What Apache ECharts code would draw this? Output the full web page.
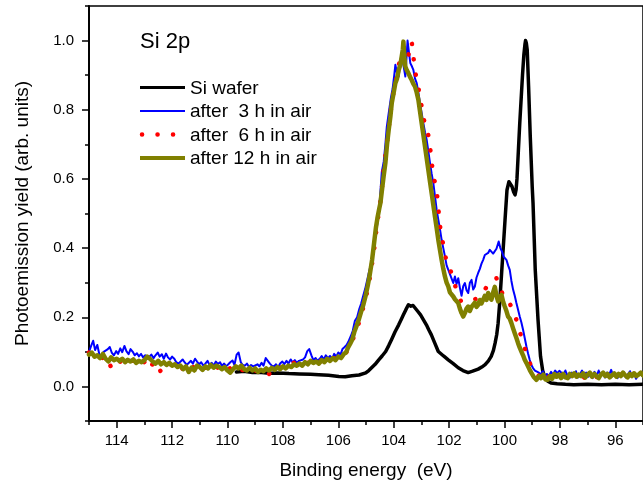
<!DOCTYPE html>
<html>
<head>
<meta charset="utf-8">
<script src="https://cdn.jsdelivr.net/npm/echarts@6/dist/echarts.min.js"></script>
<style>
  html, body { margin: 0; padding: 0; background: #fff; }
  #chart { width: 643px; height: 485px; }
</style>
</head>
<body>
<div id="chart"></div>
<script>
// Si 2p spectra, binding energy (eV) vs yield
var seriesNames = ['Si wafer', 'after  3 h in air', 'after  6 h in air', 'after 12 h in air'];
var xMajorTicks = [96, 98, 100, 102, 104, 106, 108, 110, 112, 114];
var xMinorTicks = [95, 97, 99, 101, 103, 105, 107, 109, 111, 113, 115];
var yMajorTicks = [0, 0.2, 0.4, 0.6, 0.8, 1.0];
var yMinorTicks = [-0.1, 0.1, 0.3, 0.5, 0.7, 0.9, 1.1];

var siWafer = [
  [109.68, 0.042], [109.40, 0.044], [109.10, 0.040], [108.86, 0.041], [108.50, 0.038], [108.20, 0.039],
  [107.78, 0.037], [107.40, 0.036], [107.00, 0.035], [106.70, 0.034], [106.35, 0.032], [105.98, 0.029],
  [105.75, 0.028], [105.51, 0.031], [105.25, 0.033], [105.01, 0.039], [104.90, 0.046], [104.80, 0.054],
  [104.67, 0.064], [104.54, 0.077], [104.42, 0.088], [104.29, 0.101], [104.18, 0.118], [104.08, 0.135],
  [103.95, 0.158], [103.82, 0.178], [103.72, 0.195], [103.65, 0.207], [103.56, 0.222], [103.47, 0.236],
  [103.38, 0.232], [103.30, 0.234], [103.25, 0.229], [103.14, 0.218], [103.03, 0.207], [102.92, 0.192],
  [102.82, 0.178], [102.73, 0.163], [102.64, 0.149], [102.52, 0.126], [102.39, 0.101], [102.20, 0.088],
  [102.03, 0.077], [101.85, 0.066], [101.67, 0.054], [101.50, 0.046], [101.31, 0.040], [101.15, 0.044],
  [100.95, 0.050], [100.82, 0.056], [100.70, 0.063], [100.58, 0.074], [100.48, 0.087], [100.40, 0.104],
  [100.34, 0.125], [100.28, 0.150], [100.23, 0.183], [100.17, 0.245], [100.12, 0.308], [100.05, 0.395],
  [99.98, 0.482], [99.91, 0.568], [99.84, 0.592], [99.78, 0.588], [99.73, 0.578], [99.67, 0.562],
  [99.62, 0.554], [99.58, 0.570], [99.55, 0.600], [99.50, 0.680], [99.45, 0.760], [99.40, 0.830],
  [99.35, 0.900], [99.30, 0.960], [99.26, 0.990], [99.24, 1.000], [99.21, 0.992], [99.18, 0.973],
  [99.13, 0.867], [99.07, 0.723], [99.00, 0.578], [98.97, 0.530], [98.89, 0.337], [98.79, 0.193],
  [98.70, 0.087], [98.62, 0.045], [98.55, 0.028], [98.45, 0.016], [98.32, 0.010], [98.10, 0.008],
  [97.80, 0.006], [97.50, 0.005], [97.00, 0.006], [96.50, 0.005], [96.00, 0.006], [95.50, 0.005],
  [95.00, 0.006]
];

var air3h = [
  [115.00, 0.100], [114.92, 0.118], [114.85, 0.132], [114.78, 0.105], [114.70, 0.120], [114.62, 0.090],
  [114.55, 0.083], [114.47, 0.100], [114.40, 0.095], [114.32, 0.108], [114.25, 0.114], [114.18, 0.098],
  [114.10, 0.090], [114.02, 0.102], [113.95, 0.094], [113.87, 0.110], [113.80, 0.099], [113.72, 0.117],
  [113.65, 0.102], [113.57, 0.093], [113.50, 0.108], [113.42, 0.100], [113.35, 0.090], [113.27, 0.096],
  [113.20, 0.087], [113.12, 0.094], [113.05, 0.084], [112.97, 0.090], [112.90, 0.080], [112.82, 0.086],
  [112.75, 0.092], [112.67, 0.082], [112.60, 0.090], [112.52, 0.098], [112.45, 0.086], [112.37, 0.093],
  [112.30, 0.080], [112.22, 0.095], [112.15, 0.084], [112.07, 0.078], [112.00, 0.086], [111.92, 0.080],
  [111.85, 0.070], [111.77, 0.066], [111.70, 0.064], [111.62, 0.078], [111.55, 0.070], [111.47, 0.062],
  [111.40, 0.068], [111.32, 0.074], [111.25, 0.066], [111.17, 0.080], [111.10, 0.072], [111.02, 0.064],
  [110.95, 0.070], [110.87, 0.060], [110.80, 0.066], [110.72, 0.074], [110.65, 0.062], [110.57, 0.068],
  [110.50, 0.060], [110.42, 0.072], [110.35, 0.065], [110.27, 0.070], [110.20, 0.060], [110.12, 0.066],
  [110.05, 0.058], [109.97, 0.064], [109.90, 0.070], [109.82, 0.075], [109.75, 0.062], [109.67, 0.092],
  [109.60, 0.098], [109.52, 0.070], [109.45, 0.062], [109.37, 0.060], [109.30, 0.066], [109.22, 0.056],
  [109.15, 0.062], [109.07, 0.058], [109.00, 0.055], [108.92, 0.064], [108.85, 0.058], [108.77, 0.068],
  [108.70, 0.060], [108.62, 0.082], [108.55, 0.086], [108.47, 0.066], [108.40, 0.060], [108.32, 0.058],
  [108.25, 0.064], [108.17, 0.056], [108.10, 0.066], [108.02, 0.072], [107.95, 0.064], [107.87, 0.074],
  [107.80, 0.066], [107.72, 0.078], [107.65, 0.070], [107.57, 0.076], [107.50, 0.068], [107.42, 0.074],
  [107.35, 0.070], [107.27, 0.078], [107.20, 0.084], [107.12, 0.102], [107.05, 0.108], [106.97, 0.090],
  [106.90, 0.076], [106.82, 0.082], [106.75, 0.074], [106.67, 0.080], [106.60, 0.088], [106.52, 0.078],
  [106.45, 0.090], [106.37, 0.082], [106.30, 0.088], [106.22, 0.080], [106.15, 0.094], [106.07, 0.086],
  [106.00, 0.098], [105.92, 0.092], [105.85, 0.108], [105.77, 0.114], [105.70, 0.120], [105.62, 0.132],
  [105.55, 0.145], [105.48, 0.160], [105.40, 0.190], [105.32, 0.200], [105.25, 0.222], [105.18, 0.238],
  [105.10, 0.262], [105.03, 0.282], [104.95, 0.310], [104.88, 0.335], [104.80, 0.360], [104.73, 0.400],
  [104.65, 0.440], [104.58, 0.475], [104.50, 0.540], [104.43, 0.620], [104.36, 0.650], [104.30, 0.700],
  [104.25, 0.750], [104.18, 0.790], [104.10, 0.835], [104.04, 0.860], [103.98, 0.900], [103.94, 0.930],
  [103.88, 0.905], [103.82, 0.896], [103.76, 0.940], [103.71, 0.965], [103.65, 0.930], [103.58, 0.896],
  [103.53, 0.960], [103.50, 1.000], [103.44, 0.960], [103.40, 0.935], [103.34, 0.925], [103.29, 0.915],
  [103.23, 0.890], [103.17, 0.877], [103.11, 0.850], [103.05, 0.819], [102.99, 0.790], [102.93, 0.761],
  [102.87, 0.735], [102.81, 0.713], [102.75, 0.680], [102.69, 0.646], [102.63, 0.615], [102.57, 0.588],
  [102.51, 0.550], [102.45, 0.511], [102.39, 0.482], [102.33, 0.455], [102.27, 0.424], [102.21, 0.400],
  [102.15, 0.376], [102.09, 0.350], [102.03, 0.345], [101.97, 0.325], [101.91, 0.330], [101.85, 0.299],
  [101.79, 0.318], [101.73, 0.296], [101.67, 0.313], [101.61, 0.285], [101.55, 0.262], [101.49, 0.290],
  [101.43, 0.299], [101.37, 0.278], [101.31, 0.270], [101.25, 0.300], [101.19, 0.308], [101.13, 0.280],
  [101.07, 0.289], [101.01, 0.315], [100.95, 0.328], [100.89, 0.340], [100.83, 0.355], [100.77, 0.366],
  [100.71, 0.380], [100.65, 0.375], [100.59, 0.386], [100.53, 0.395], [100.47, 0.400], [100.41, 0.384],
  [100.35, 0.386], [100.29, 0.398], [100.21, 0.419], [100.15, 0.400], [100.09, 0.390], [100.03, 0.375],
  [99.97, 0.380], [99.93, 0.366], [99.87, 0.350], [99.81, 0.337], [99.75, 0.305], [99.69, 0.280],
  [99.63, 0.262], [99.57, 0.241], [99.51, 0.222], [99.45, 0.202], [99.39, 0.185], [99.33, 0.164],
  [99.27, 0.140], [99.21, 0.116], [99.15, 0.095], [99.09, 0.077], [99.03, 0.062], [98.97, 0.053],
  [98.90, 0.046], [98.83, 0.050], [98.76, 0.040], [98.70, 0.034], [98.62, 0.044], [98.55, 0.029],
  [98.47, 0.036], [98.40, 0.030], [98.32, 0.042], [98.25, 0.034], [98.17, 0.046], [98.10, 0.038],
  [98.02, 0.045], [97.95, 0.050], [97.87, 0.034], [97.80, 0.046], [97.72, 0.030], [97.65, 0.024],
  [97.57, 0.040], [97.50, 0.030], [97.42, 0.044], [97.35, 0.026], [97.27, 0.036], [97.20, 0.046],
  [97.12, 0.030], [97.05, 0.040], [96.97, 0.028], [96.90, 0.038], [96.82, 0.024], [96.75, 0.042],
  [96.67, 0.032], [96.60, 0.046], [96.52, 0.030], [96.45, 0.038], [96.37, 0.026], [96.30, 0.040],
  [96.22, 0.034], [96.15, 0.048], [96.07, 0.030], [96.00, 0.038], [95.92, 0.024], [95.85, 0.036],
  [95.77, 0.030], [95.70, 0.042], [95.62, 0.026], [95.55, 0.034], [95.47, 0.044], [95.40, 0.028],
  [95.32, 0.036], [95.25, 0.022], [95.17, 0.034], [95.10, 0.040], [95.02, 0.030]
];

var air6h = [
  [115.00, 0.098], [114.85, 0.092], [114.70, 0.086], [114.55, 0.080], [114.40, 0.090], [114.30, 0.072],
  [114.20, 0.055], [114.10, 0.070], [113.95, 0.078], [113.80, 0.066], [113.65, 0.074], [113.50, 0.080],
  [113.35, 0.070], [113.20, 0.062], [113.05, 0.075], [112.90, 0.060], [112.80, 0.048], [112.70, 0.066],
  [112.55, 0.072], [112.40, 0.040], [112.25, 0.062], [112.10, 0.066], [111.95, 0.056], [111.80, 0.060],
  [111.65, 0.050], [111.50, 0.062], [111.35, 0.048], [111.20, 0.058], [111.05, 0.064], [110.90, 0.050],
  [110.75, 0.056], [110.60, 0.046], [110.45, 0.058], [110.30, 0.052], [110.15, 0.060], [110.00, 0.048],
  [109.85, 0.056], [109.70, 0.062], [109.55, 0.050], [109.40, 0.046], [109.25, 0.056], [109.10, 0.050],
  [108.95, 0.044], [108.80, 0.050], [108.65, 0.046], [108.50, 0.036], [108.35, 0.052], [108.20, 0.048],
  [108.05, 0.056], [107.90, 0.050], [107.75, 0.060], [107.60, 0.068], [107.45, 0.062], [107.30, 0.070],
  [107.15, 0.066], [107.00, 0.074], [106.85, 0.068], [106.70, 0.076], [106.55, 0.070], [106.40, 0.080],
  [106.25, 0.076], [106.10, 0.084], [105.95, 0.080], [105.80, 0.092], [105.70, 0.100], [105.60, 0.115],
  [105.50, 0.132], [105.40, 0.150], [105.30, 0.172], [105.20, 0.200], [105.10, 0.228], [105.00, 0.258],
  [104.90, 0.296], [104.80, 0.345], [104.70, 0.400], [104.60, 0.470], [104.52, 0.510], [104.44, 0.560],
  [104.36, 0.630], [104.28, 0.680], [104.20, 0.730], [104.12, 0.790], [104.04, 0.835], [103.96, 0.870],
  [103.88, 0.900], [103.80, 0.935], [103.72, 0.944], [103.64, 0.958], [103.56, 0.955], [103.47, 0.959],
  [103.40, 0.975], [103.35, 0.997], [103.29, 0.955], [103.23, 0.910], [103.17, 0.890], [103.11, 0.867],
  [103.05, 0.829], [102.96, 0.800], [102.87, 0.751], [102.77, 0.737], [102.69, 0.694], [102.63, 0.650],
  [102.57, 0.607], [102.45, 0.573], [102.41, 0.530], [102.37, 0.500], [102.30, 0.443], [102.17, 0.395],
  [102.09, 0.357], [101.97, 0.347], [101.88, 0.308], [101.79, 0.294], [101.70, 0.270], [101.57, 0.246],
  [101.45, 0.248], [101.31, 0.246], [101.15, 0.250], [100.95, 0.255], [100.83, 0.268], [100.71, 0.280],
  [100.59, 0.294], [100.41, 0.299], [100.29, 0.313], [100.21, 0.289], [100.05, 0.265], [99.87, 0.255],
  [99.75, 0.227], [99.57, 0.193], [99.45, 0.159], [99.33, 0.125], [99.21, 0.096], [99.09, 0.068],
  [98.94, 0.043], [98.78, 0.030], [98.61, 0.043], [98.47, 0.026], [98.37, 0.029], [98.20, 0.036],
  [98.05, 0.026], [97.90, 0.034], [97.75, 0.022], [97.60, 0.036], [97.45, 0.030], [97.30, 0.040],
  [97.15, 0.024], [97.00, 0.032], [96.85, 0.038], [96.70, 0.026], [96.55, 0.034], [96.40, 0.040],
  [96.25, 0.028], [96.10, 0.036], [95.95, 0.024], [95.80, 0.034], [95.65, 0.040], [95.50, 0.028],
  [95.35, 0.036], [95.20, 0.042], [95.05, 0.030]
];

var air12h = [
  [115.00, 0.092], [114.90, 0.098], [114.80, 0.086], [114.70, 0.090], [114.60, 0.082], [114.50, 0.094],
  [114.40, 0.080], [114.30, 0.072], [114.20, 0.084], [114.10, 0.076], [114.00, 0.080], [113.90, 0.074],
  [113.80, 0.080], [113.70, 0.070], [113.60, 0.077], [113.50, 0.072], [113.40, 0.078], [113.30, 0.068],
  [113.20, 0.074], [113.10, 0.070], [113.00, 0.076], [112.90, 0.086], [112.80, 0.080], [112.70, 0.072],
  [112.60, 0.066], [112.50, 0.074], [112.40, 0.064], [112.30, 0.070], [112.20, 0.062], [112.10, 0.068],
  [112.00, 0.060], [111.90, 0.064], [111.80, 0.056], [111.70, 0.060], [111.60, 0.050], [111.50, 0.058],
  [111.40, 0.042], [111.30, 0.054], [111.20, 0.046], [111.10, 0.060], [111.00, 0.056], [110.90, 0.048],
  [110.80, 0.058], [110.70, 0.052], [110.60, 0.062], [110.50, 0.054], [110.40, 0.060], [110.30, 0.056],
  [110.20, 0.050], [110.10, 0.056], [110.00, 0.046], [109.90, 0.040], [109.80, 0.050], [109.70, 0.058],
  [109.60, 0.052], [109.50, 0.060], [109.40, 0.050], [109.30, 0.046], [109.20, 0.054], [109.10, 0.046],
  [109.00, 0.052], [108.90, 0.042], [108.80, 0.048], [108.70, 0.044], [108.60, 0.052], [108.50, 0.046],
  [108.40, 0.054], [108.30, 0.048], [108.20, 0.056], [108.10, 0.050], [108.00, 0.058], [107.90, 0.052],
  [107.80, 0.060], [107.70, 0.056], [107.60, 0.064], [107.50, 0.060], [107.40, 0.066], [107.30, 0.060],
  [107.20, 0.070], [107.10, 0.064], [107.00, 0.074], [106.90, 0.068], [106.80, 0.072], [106.70, 0.066],
  [106.60, 0.076], [106.50, 0.070], [106.40, 0.080], [106.30, 0.074], [106.20, 0.082], [106.10, 0.076],
  [106.00, 0.086], [105.90, 0.082], [105.80, 0.094], [105.72, 0.098], [105.65, 0.112], [105.58, 0.122],
  [105.50, 0.135], [105.42, 0.158], [105.34, 0.175], [105.26, 0.193], [105.18, 0.215], [105.10, 0.235],
  [105.02, 0.260], [104.94, 0.290], [104.86, 0.325], [104.78, 0.366], [104.70, 0.420], [104.64, 0.460],
  [104.58, 0.490], [104.52, 0.515], [104.48, 0.530], [104.42, 0.570], [104.36, 0.610], [104.30, 0.646],
  [104.24, 0.700], [104.18, 0.742], [104.12, 0.780], [104.07, 0.819], [104.01, 0.845], [103.94, 0.877],
  [103.88, 0.890], [103.82, 0.915], [103.76, 0.930], [103.71, 0.954], [103.67, 0.975], [103.65, 0.997],
  [103.61, 0.950], [103.58, 0.925], [103.53, 0.915], [103.47, 0.906], [103.41, 0.895], [103.35, 0.886],
  [103.29, 0.875], [103.23, 0.867], [103.17, 0.850], [103.11, 0.829], [103.05, 0.795], [102.99, 0.761],
  [102.93, 0.728], [102.87, 0.694], [102.81, 0.660], [102.75, 0.626], [102.69, 0.592], [102.63, 0.559],
  [102.57, 0.525], [102.51, 0.491], [102.45, 0.458], [102.39, 0.424], [102.33, 0.395], [102.27, 0.366],
  [102.21, 0.340], [102.15, 0.318], [102.09, 0.300], [102.03, 0.289], [101.97, 0.272], [101.91, 0.275],
  [101.85, 0.260], [101.79, 0.252], [101.73, 0.248], [101.67, 0.241], [101.61, 0.225], [101.55, 0.212],
  [101.49, 0.202], [101.43, 0.212], [101.37, 0.225], [101.31, 0.231], [101.25, 0.218], [101.19, 0.230],
  [101.13, 0.227], [101.07, 0.242], [101.01, 0.230], [100.95, 0.236], [100.89, 0.250], [100.83, 0.240],
  [100.77, 0.251], [100.71, 0.262], [100.65, 0.250], [100.59, 0.270], [100.53, 0.258], [100.47, 0.251],
  [100.41, 0.272], [100.35, 0.288], [100.29, 0.262], [100.23, 0.246], [100.17, 0.258], [100.11, 0.265],
  [100.05, 0.245], [99.99, 0.231], [99.93, 0.218], [99.87, 0.202], [99.81, 0.196], [99.75, 0.183],
  [99.69, 0.168], [99.63, 0.154], [99.57, 0.140], [99.51, 0.125], [99.45, 0.112], [99.39, 0.101],
  [99.33, 0.090], [99.27, 0.077], [99.21, 0.068], [99.15, 0.058], [99.09, 0.048], [99.03, 0.039],
  [98.95, 0.028], [98.85, 0.019], [98.75, 0.030], [98.68, 0.024], [98.60, 0.034], [98.52, 0.020],
  [98.44, 0.019], [98.36, 0.030], [98.28, 0.022], [98.20, 0.036], [98.12, 0.028], [98.04, 0.034],
  [97.96, 0.024], [97.88, 0.036], [97.80, 0.026], [97.72, 0.024], [97.64, 0.036], [97.56, 0.030],
  [97.48, 0.038], [97.40, 0.028], [97.32, 0.034], [97.24, 0.030], [97.16, 0.038], [97.08, 0.026],
  [97.00, 0.034], [96.92, 0.040], [96.84, 0.028], [96.76, 0.036], [96.68, 0.030], [96.60, 0.024],
  [96.52, 0.034], [96.44, 0.040], [96.36, 0.030], [96.28, 0.036], [96.20, 0.026], [96.12, 0.032],
  [96.04, 0.038], [95.96, 0.028], [95.88, 0.036], [95.80, 0.030], [95.72, 0.040], [95.64, 0.032],
  [95.56, 0.026], [95.48, 0.036], [95.40, 0.030], [95.32, 0.038], [95.24, 0.030], [95.16, 0.034],
  [95.08, 0.040], [95.00, 0.032]
];

var colors = ['#000000', '#0000ff', '#ff0000', '#808000'];
var widths = [3.5, 2, 4.5, 4.5];
var dots = [0.1, 15.4];

var font = '"Liberation Sans", Arial, Helvetica, sans-serif';
var chart = echarts.init(document.getElementById('chart'), null, { renderer: 'canvas' });

function lineSeries(i, data) {
  return {
    name: seriesNames[i],
    type: 'line',
    data: data,
    symbol: 'none',
    xAxisIndex: 0,
    yAxisIndex: 0,
    lineStyle: { color: colors[i], width: widths[i], type: i === 2 ? dots : 'solid', cap: 'round', join: 'round' }
  };
}

// legend drawn by hand so the samples are plain lines
var legendRows = [87.5, 111, 134.5, 158];
var legendGraphic = [];
seriesNames.forEach(function (name, i) {
  legendGraphic.push({
    type: 'line',
    shape: { x1: i === 2 ? 142 : 140, y1: legendRows[i], x2: 185, y2: legendRows[i] },
    style: {
      stroke: colors[i], lineWidth: i === 0 ? 3 : (i === 1 ? 2 : (i === 2 ? 4.5 : 4)),
      lineDash: i === 2 ? dots : null, lineCap: i === 2 ? 'round' : 'butt'
    }
  });
  legendGraphic.push({
    type: 'text', x: 190, y: legendRows[i] + 1,
    style: { text: name, font: '19px ' + font, fill: '#000', verticalAlign: 'middle' }
  });
});

var tickLine = { color: '#000', width: 1.5 };

var option = {
  animation: false,
  backgroundColor: '#fff',
  grid: { left: 89, right: -3, top: 6, bottom: 64, show: true, borderColor: '#000', borderWidth: 1.5 },
  graphic: [{
    type: 'text', x: 140, y: 42,
    style: { text: 'Si 2p', font: '22px ' + font, fill: '#000', verticalAlign: 'middle' }
  }].concat(legendGraphic),
  xAxis: [{
    type: 'value', inverse: true, min: 95, max: 115,
    name: 'Binding energy  (eV)', nameLocation: 'middle', nameGap: 40,
    nameTextStyle: { fontFamily: font, fontSize: 19, color: '#000' },
    axisLine: { onZero: false, lineStyle: tickLine },
    axisTick: { inside: false, customValues: xMajorTicks, length: 7, lineStyle: tickLine },
    axisLabel: { customValues: xMajorTicks, margin: 12, fontFamily: font, fontSize: 15, color: '#000' },
    splitLine: { show: false }
  }, {
    type: 'value', inverse: true, min: 95, max: 115, position: 'bottom',
    axisLine: { show: true, onZero: false, lineStyle: tickLine },
    axisTick: { inside: false, customValues: xMinorTicks, length: 4, lineStyle: tickLine },
    axisLabel: { show: false },
    splitLine: { show: false }
  }],
  yAxis: [{
    type: 'value', min: -0.1, max: 1.1, position: 'left',
    name: 'Photoemission yield (arb. units)', nameLocation: 'middle', nameGap: 57,
    nameTextStyle: { fontFamily: font, fontSize: 19, color: '#000' },
    axisLine: { show: true, onZero: false, lineStyle: tickLine },
    axisTick: { show: true, inside: false, customValues: yMajorTicks, length: 7, lineStyle: tickLine },
    axisLabel: {
      customValues: yMajorTicks, margin: 15, fontFamily: font, fontSize: 15, color: '#000',
      formatter: function (v) { return v.toFixed(1); }
    },
    splitLine: { show: false }
  }, {
    type: 'value', min: -0.1, max: 1.1, position: 'left',
    axisLine: { show: true, onZero: false, lineStyle: tickLine },
    axisTick: { show: true, inside: false, customValues: yMinorTicks, length: 4, lineStyle: tickLine },
    axisLabel: { show: false },
    splitLine: { show: false }
  }],
  series: [
    lineSeries(0, siWafer),
    lineSeries(1, air3h),
    lineSeries(2, air6h),
    lineSeries(3, air12h)
  ]
};

chart.setOption(option);
</script>
</body>
</html>
